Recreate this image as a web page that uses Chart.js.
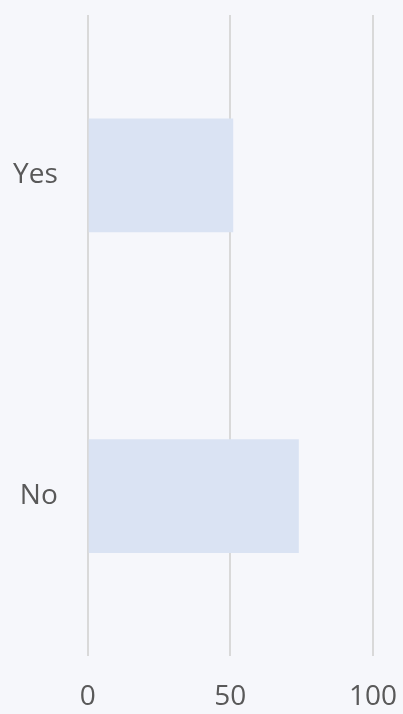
<!DOCTYPE html>
<html lang="en">
  <head>
    <meta charset="UTF-8">
    <title></title>
    <script src="https://cdn.jsdelivr.net/npm/chart.js"></script>
    <style>
      html, body { margin: 0; padding: 0; background: #f6f7fb; overflow: hidden; }
      canvas { display: block; }
    </style>
  </head>
  <body>
  <canvas id="chart" width="403" height="714"></canvas>
    <script>
    const categories = ['Yes', 'No'];
    const values = [51, 74];
    const xTicks = [0, 50, 100];

    const ctx = document.getElementById('chart').getContext('2d');
    new Chart(ctx, {
      type: 'bar',
      data: {
        labels: categories,
        datasets: [{
          data: values,
          backgroundColor: '#dae3f3',
          borderWidth: 0,
          categoryPercentage: 1,
          barPercentage: 0.355
        }]
      },
      options: {
        indexAxis: 'y',
        responsive: false,
        animation: false,
        layout: { padding: { top: 15, left: 13, right: 30, bottom: 0 } },
        plugins: {
          legend: { display: false },
          tooltip: { enabled: false }
        },
        scales: {
          x: {
            min: xTicks[0],
            max: xTicks[xTicks.length - 1],
            afterBuildTicks: (axis) => { axis.ticks = xTicks.map(v => ({ value: v })); },
            // chart.js counts tick padding twice and adds it to the plot edges too
            afterFit: (axis) => {
              axis.paddingLeft = 0;
              axis.paddingRight = 0;
              axis.height -= axis.options.ticks.padding;
            },
            border: { display: false },
            grid: { color: '#d9d9d9', lineWidth: 2, drawTicks: false },
            ticks: {
              padding: 24,
              color: '#595959',
              font: { family: 'Open Sans', size: 28 }
            }
          },
          y: {
            afterFit: (axis) => {
              axis.paddingTop = 0;
              axis.paddingBottom = 0;
              axis.width -= axis.options.ticks.padding;
            },
            border: { display: false },
            grid: { display: false, drawTicks: false },
            ticks: {
              padding: 30,
              color: '#595959',
              font: { family: 'Open Sans', size: 28 }
            }
          }
        }
      }
    });
    </script>
  </body>
</html>
